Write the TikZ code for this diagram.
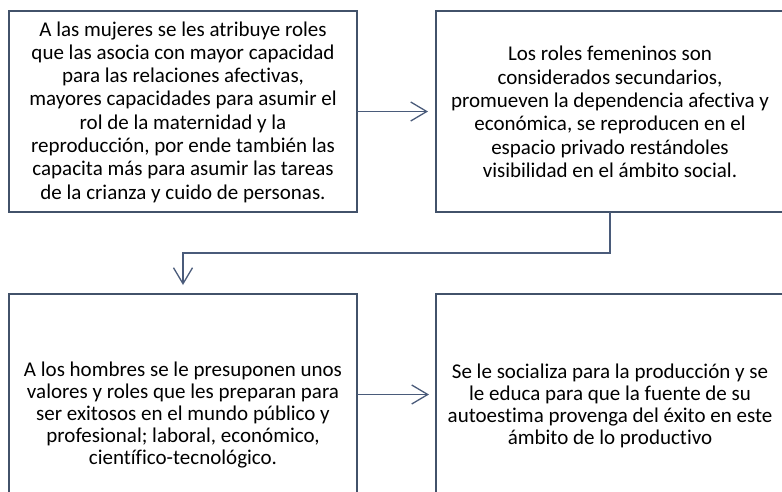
\documentclass[tikz,border=0pt]{standalone}
\usepackage{fontspec}
\setmainfont{Carlito}[Ligatures={NoCommon,NoContextual}]
\usetikzlibrary{arrows.meta}
\definecolor{boxline}{HTML}{42526A}
\definecolor{connline}{HTML}{4A5B7A}
\begin{document}
\begin{tikzpicture}[x=1pt,y=-1pt,
  box/.style={draw=boxline,line width=2.5pt,minimum width=348pt,minimum height=201pt,
    inner sep=0pt,outer sep=0pt},
  txt/.style={align=center,text=black,inner sep=0pt,
    font=\fontsize{21}{23.3}\selectfont},
  conn/.style={draw=connline,line width=1.3pt,-{Straight Barb[length=16pt,width=19pt,line width=1.3pt]}}]
\useasboundingbox (0,0) rectangle (782,491);
\clip (0,0) rectangle (782,491);
\node[box] (b1) at (183,111.5) {};
\node[box] (b2) at (610,111.5) {};
\node[box] (b3) at (183,394.5) {};
\node[box] (b4) at (610,394.5) {};
\node[txt] (t1) at (183,112) {A las mujeres se les atribuye roles\\
que las asocia con mayor capacidad\\
para las relaciones afectivas,\\
mayores capacidades para asumir el\\
rol de la maternidad y la\\
reproducción, por ende también las\\
capacita más para asumir las tareas\\
de la crianza y cuido de personas.};
\node[txt] (t2) at (610,112) {Los roles femeninos son\\
considerados secundarios,\\
promueven la dependencia afectiva y\\
económica, se reproducen en el\\
espacio privado restándoles\\
visibilidad en el ámbito social.};
\node[txt,font=\fontsize{21}{22}\selectfont] (t3) at (183,415) {A los hombres se le presuponen unos\\
valores y roles que les preparan para\\
ser exitosos en el mundo público y\\
profesional; laboral, económico,\\
científico-tecnológico.};
\node[txt,font=\fontsize{21}{22}\selectfont] (t4) at (610,406) {Se le socializa para la producción y se\\
le educa para que la fuente de su\\
autoestima provenga del éxito en este\\
ámbito de lo productivo};
\coordinate (mid) at (396,253);
\draw[conn,shorten >=8pt] (b1.east) -- (b2.west);
\draw[conn,shorten >=9pt] (b2.south) |- (mid) -| (b3.north);
\draw[conn,shorten >=7pt] (b3.east) -- (b4.west);
\end{tikzpicture}
\end{document}
